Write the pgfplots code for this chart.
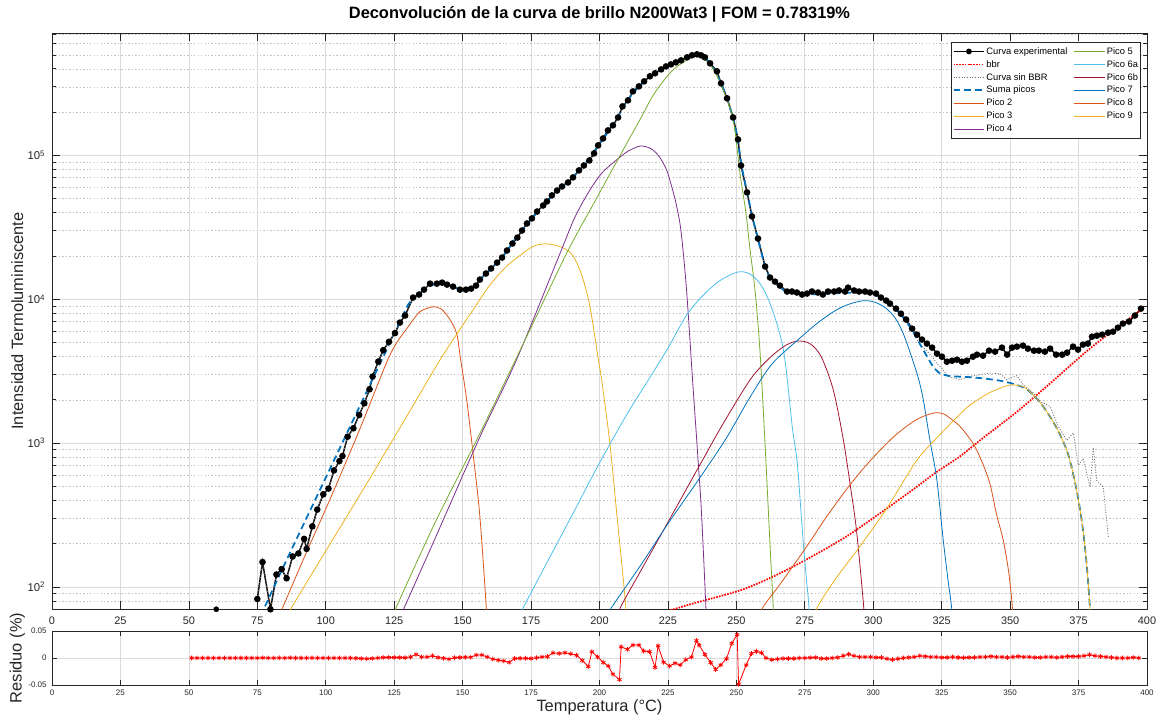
\documentclass[border=0pt]{standalone}
\usepackage{fontspec}
\setmainfont{Liberation Sans}
\usepackage{pgfplots}
\usepackage{pgfplotstable}
\pgfplotsset{compat=1.18}

\definecolor{mblue}{rgb}{0,0.447,0.741}
\definecolor{morange}{rgb}{0.850,0.325,0.098}
\definecolor{myellow}{rgb}{0.929,0.694,0.125}
\definecolor{mpurple}{rgb}{0.494,0.184,0.556}
\definecolor{mgreen}{rgb}{0.466,0.674,0.188}
\definecolor{mcyan}{rgb}{0.301,0.745,0.933}
\definecolor{mred}{rgb}{0.635,0.078,0.184}
\definecolor{axgray}{rgb}{0.15,0.15,0.15}

\pgfplotstableread{
T I
75.0 82.5
76.9 149
79.8 70
82.0 122
83.9 133
85.7 115
87.9 163
90.0 171
92.1 216
93.0 184
95.1 264
96.9 345
99.1 441
101.0 483
103.0 646
105.0 750
106.1 813
108.0 1109
110.1 1268
112.2 1570
114.1 1893
116.0 2368
117.1 2903
119.2 3691
121.0 4424
123.1 5058
125.3 5821
127.1 6887
129.0 7709
131.9 10280
134.1 10790
135.9 11670
138.1 12850
140.6 12850
142.5 13060
144.3 12650
146.5 12250
149.0 11670
151.2 11670
153.1 11860
154.9 12450
156.3 13710
158.5 15100
160.4 16370
162.6 17990
164.4 19500
166.2 21830
168.2 24430
170.0 26850
171.7 30060
173.5 33650
175.3 36480
177.2 40740
179.4 44870
180.8 47860
182.6 52720
184.5 57020
186.3 60810
188.5 64860
190.3 70310
192.5 78700
194.3 85110
196.3 92260
198.0 103300
199.5 117500
201.3 131200
203.1 149300
204.9 161800
206.8 183700
208.4 219300
210.4 241500
212.2 278600
214.4 302000
216.3 327300
218.4 354800
220.3 372400
222.5 396300
224.3 415900
226.1 429500
227.9 443600
229.8 458100
232.0 480800
233.8 496600
235.6 504700
237.1 496600
238.5 480800
240.4 436500
242.9 384600
244.4 316900
246.6 249500
248.8 183700
250.6 129100
251.7 85110
253.9 55340
255.7 37670
257.9 26420
260.5 16900
262.3 14160
264.1 13270
265.9 12450
268.5 11320
270.3 11320
272.1 11140
274.0 10790
275.8 10960
277.6 11320
279.8 11140
281.6 10790
283.5 11320
285.7 11320
287.5 11510
289.7 11320
290.8 12050
293.0 11510
294.8 11320
297.0 11320
298.8 11140
301.0 10960
302.8 10280
304.7 9795
306.1 9333
308.3 8610
310.1 7943
312.0 7228
314.2 6252
316.0 5675
317.8 5248
319.6 4920
321.5 4613
323.3 4188
325.1 3990
326.9 3681
328.8 3741
330.6 3802
332.4 3681
334.2 3741
336.4 3990
337.9 4121
340.1 4055
342.3 4395
344.5 4325
347.0 4613
348.9 4121
350.7 4613
352.5 4688
354.7 4764
356.5 4539
358.7 4395
360.5 4395
362.7 4325
364.6 4539
366.8 4121
369.0 4121
370.8 4256
373.0 4688
374.8 4467
376.6 4842
378.4 4920
379.9 5495
381.7 5585
383.6 5675
385.8 5861
387.6 5957
389.4 6353
391.2 6776
393.4 6998
395.6 7709
397.8 8610
}\expdata

\pgfplotstableread{
T R
51 0
53 0
55 0
57 0
59 0
61 0
63 0
65 0
67 0
69 0
71 0
73 0
75 0
77 0.0004
79 0
81 0
83 0.0002
85 0
87 0.0004
89 0
91 0
93 0
95 0.0002
97 0
99 0
101 0
103 0
105 0
107 0
109 0
111 -0.0004
113 -0.001
115 -0.0015
117 -0.0008
119 0
121 0.001
123 0.0012
125 0.001
127 0.001
129 0.0005
131 0.002
133 0.0065
135 0.002
137 0.002
139 0.004
141 0.001
143 -0.0005
145 -0.002
147 0.0005
149 0.001
151 0.0015
153 0.0015
155 0.0055
157 0.0055
159 0.002
161 -0.002
163 -0.004
165 -0.0055
167 -0.008
169 -0.001
171 -0.0005
173 -0.0005
175 -0.001
177 0.0005
179 0.002
181 0.0025
183 0.0095
185.3 0.0085
187.4 0.0097
189.5 0.0077
191.6 0.0052
193.7 -0.0045
195.9 -0.016
197.2 0.0116
199.3 0.0019
201.4 -0.0084
203.2 -0.0148
204.9 -0.030
207.3 -0.040
207.9 0.0206
210.2 0.0161
212.2 0.0239
214.4 0.0239
216.1 0.0129
218.3 0.0116
220.3 -0.0174
221.4 0.0226
223.4 -0.0077
225.6 -0.0148
227.6 -0.0097
229.5 -0.0129
231.5 -0.0032
233.6 0.0019
235.4 0.0323
236.4 0.0239
238.5 0.0065
240.6 -0.0084
242.4 -0.0213
244.3 -0.0129
246.4 -0.0013
248.3 0.0271
250.3 0.0432
250.8 -0.0484
253.6 -0.0129
255.5 0.0084
257.3 0.0123
259.2 0.0097
260.8 0.0
262.9 -0.0032
265 -0.002
267 -0.001
269 -0.001
271 -0.001
273 0
275 0
277 0.0005
279 0.001
281 -0.001
283 -0.001
285 0
287 0.001
289 0.004
291 0.007
293 0.004
295 0.002
297 0.002
299 0.002
301 0.001
303 0.001
305 -0.0015
307 -0.003
309 -0.0015
311 0
313 0.001
315 0.002
317 0.004
319 0.003
321 0.002
323 0.002
325 0.001
327 0.001
329 0.002
331 0.001
333 0.0005
335 0.001
337 0.001
339 0.002
341 0.002
343 0.003
345 0.002
347 0.002
349 0.001
351 0.002
353 0.003
355 0.002
357 0.002
359 0.001
361 0.001
363 0.002
365 0.002
367 0.001
369 0.002
371 0.003
373 0.003
375 0.003
377 0.004
379 0.006
381 0.004
383 0.003
385 0.002
387 0.001
389 0
391 0
393 0
395 0.001
397 0
}\resdata

\pgfplotsset{
  mstyle/.style={
    scale only axis, width=821.25pt,
    xmin=0, xmax=400, xtick={0,25,...,400},
    axis line style={axgray, line width=0.5pt},
    every tick/.style={axgray, line width=0.5pt},
    tick align=inside,
    xmajorgrids, ymajorgrids,
    major grid style={black!14, line width=0.5pt},
    /pgf/number format/assume math mode=true,
    tick label style={text=axgray},
    label style={text=axgray, font=\fontsize{12.3}{14}\selectfont},
  },
}

\begin{document}
\begin{tikzpicture}
\useasboundingbox (-39pt,0pt) rectangle (831pt,537.75pt);

\begin{axis}[mstyle,
  at={(0pt,80.8pt)}, anchor=south west, height=432.2pt,
  ymode=log, ymin=70, ymax=7.1e5,
  ytick={100,1000,10000,100000},
  yticklabels={10\textsuperscript{2},10\textsuperscript{3},10\textsuperscript{4},10\textsuperscript{5}},
  minor ytick={80,90,200,300,400,500,600,700,800,900,2000,3000,4000,5000,6000,7000,8000,9000,20000,30000,40000,50000,60000,70000,80000,90000,200000,300000,400000,500000,600000,700000},
  yminorgrids,
  minor grid style={black!24, line width=0.4pt, dash pattern=on 1pt off 1.6pt},
  major tick length=6pt, minor tick length=3pt,
  xticklabel style={font=\fontsize{8.2}{9}\selectfont, yshift=-2.5pt},
  yticklabel style={font=\fontsize{8.5}{9}\selectfont, xshift=-1.5pt},
  ylabel={Intensidad Termoluminiscente},
  ylabel style={at={(axis description cs:0,0.5)}, anchor=center, yshift=26pt},
  title={Deconvolución de la curva de brillo N200Wat3 | FOM = 0.78319\%},
  title style={at={(axis description cs:0.5,1)}, anchor=base, yshift=5pt, font=\bfseries\fontsize{12.3}{14}\selectfont, text=black},
  legend columns=2, legend cell align=left,
  legend image code/.code={\draw[mark repeat=2,mark phase=2,#1] plot coordinates {(0pt,0pt) (11.5pt,0pt) (23pt,0pt)};},
  legend style={at={(0.9945,0.9844)}, anchor=north east, draw=axgray, line width=0.5pt, fill=white,
    font=\fontsize{7}{8}\selectfont, inner xsep=1pt, inner ysep=2pt,
    nodes={inner sep=1pt, text height=5.9pt, text depth=1.8pt},
    /tikz/every even column/.append style={column sep=4pt}},
]
% experimental
\addplot[black, line width=1.1pt, mark=*, mark size=1.9pt, mark options={solid, fill=black}, forget plot] table[x=T, y=I] {\expdata};
\addplot[black, only marks, mark=*, mark size=1.9pt, forget plot] coordinates {(60,70)};
% bbr
\addplot[red, line width=1.3pt, dash pattern=on 1.2pt off 0.9pt, smooth, forget plot] coordinates {
(222,65.6)(226.4,69.3)(235,77.6)(251.3,94.6)(263.5,118.3)(275.7,155.6)(287.9,210.9)(293.9,250)(304.9,350.8)(314,467.7)(323.2,631)(331.7,810)(340.2,1090)(352.4,1648)(364.6,2600)(376.8,4169)(384.7,5495)(391,6761)(397.4,8318)};
% curva sin BBR
\addplot[black!55, line width=0.6pt, dash pattern=on 0.8pt off 1.2pt, restrict x to domain=74:316.5, forget plot] table[x=T, y=I] {\expdata};
\addplot[black!55, line width=0.6pt, dash pattern=on 0.8pt off 1.2pt, forget plot] coordinates {
(316.0,5195)(317.8,4700)(319.6,4360)(321.5,4000)(323.3,3558)(325.1,3320)(326.9,2960)(328.0,2884)(331.7,2761)(335.3,2911)(339.0,2992)(342.6,3069)(346.3,3041)(348.8,2761)(352.4,2944)(354.8,2547)(358.5,2228)(360.9,1950)(364.6,1799)(367.6,1306)(370.7,1047)(373.1,1178)(374.9,701.5)(376.7,781.6)(379.2,495.5)(380.4,931)(381.6,552)(384.0,495.5)(385.9,222.3)};
% suma picos
\addplot[mblue, line width=1.3pt, dash pattern=on 5pt off 3pt, smooth, tension=0.4, forget plot] coordinates {
(76,63.1)(77.2,69.3)(85,144.5)(95,363.1)(105,912)(115,2291)(120,3631)(125,5754)(130,9120)(133,10470)(136,11750)(140,12740)(144,12590)(148,11890)(151,11610)(154,12300)(157,14130)(160,16030)(165,20180)(170,27540)(175,35890)(180,46240)(185,57810)(190,69500)(195,89130)(200,120200)(205,164100)(210,238800)(215,309000)(220,369800)(225,421700)(230,462400)(235,501200)(238,489800)(241,421700)(244,331100)(247,237100)(250,144500)(252,83180)(254,54330)(256,36310)(258,25700)(260,18200)(262,14450)(265,12590)(268,11350)(272,10960)(276,10840)(280,10840)(285,10960)(290,11090)(295,11090)(300,10840)(303,10230)(306,9333)(310,7852)(314,6166)(318.3,4436)(321.9,3396)(324.4,3055)(328,2924)(334,2884)(340.2,2818)(346,2723)(350,2620)(354,2480)(356,2370)(358.5,2158)(361.5,1862)(364.6,1524)(367.7,1202)(370.7,893)(372.5,676)(374.3,470)(375.6,339)(376.8,234)(378,141)(379.2,69.3)(379.6,44.7)};
% Pico 2
\addplot[morange, line width=0.6pt, smooth, forget plot] coordinates {
(80,46.8)(83.9,69.3)(92,158.5)(102.2,434.5)(112.5,1259)(122.3,3664)(126,5012)(129.6,6252)(132,7244)(134.4,8204)(137,8650)(139.3,8872)(142,8600)(145,7413)(147.8,5794)(149.3,3776)(151.5,1995)(153.9,820)(156.3,309)(158.7,69.3)(159.5,35.5)};
% Pico 3
\addplot[myellow, line width=0.6pt, smooth, forget plot] coordinates {
(84,55)(87,69.3)(100,177.8)(115,524.8)(130,1585)(141.7,3776)(149,6166)(153.9,8511)(160,12590)(166.1,16980)(172,20890)(176,23440)(180.1,24270)(184,23710)(187.5,22390)(190.4,19950)(193.5,14790)(196.5,8913)(199.6,3802)(200.8,2742)(203.8,993)(206.3,323.6)(208.2,141.3)(209.7,69.3)(210.3,44.7)};
% Pico 4
\addplot[mpurple, line width=0.6pt, smooth, forget plot] coordinates {
(125,50.1)(128.3,69.3)(140,218.8)(156.3,1104)(169.7,3802)(185.6,20890)(191,37150)(196.5,57540)(201,75860)(206.3,93330)(210.5,107200)(214.8,116100)(218.5,112200)(221.5,100000)(224.5,79430)(227,54950)(228.2,44160)(229.8,29510)(231.8,11610)(234.0,2742)(236.1,721)(237.3,316)(238.9,69.3)(239.3,39.8)};
% Pico 5
\addplot[mgreen, line width=0.6pt, smooth, forget plot] coordinates {
(122,50.1)(125.3,69.3)(140,281.8)(156.3,1167)(173,5309)(188,20890)(198,46770)(206.3,90780)(214.8,177800)(220,269200)(225.8,375000)(230,436500)(235.5,489800)(240.4,426600)(244.4,309000)(248.8,177800)(251.3,75340)(253.5,39810)(255,22030)(256.8,11610)(258.6,4436)(260.4,1047)(262.3,195)(263.5,69.3)(263.9,39.8)};
% Pico 6a
\addplot[mcyan, line width=0.6pt, smooth, forget plot] coordinates {
(170.5,63.1)(171.7,69.3)(178.3,120.2)(190,316.2)(200.2,739.6)(210,1585)(217.8,2742)(225,4571)(231.8,7762)(238,10720)(244,13490)(250.3,15420)(254.5,15140)(258.6,12880)(262.5,9120)(267.2,4436)(270.5,1259)(272.3,708)(274.5,195)(276.6,69.3)(277,39.8)};
% Pico 6b
\addplot[mred, line width=0.6pt, smooth, forget plot] coordinates {
(206.5,56.2)(207.2,69.3)(214.8,126.8)(225,281.8)(236.7,707.9)(245,1349)(255,2754)(262,3890)(268,4786)(272.6,5129)(277,4898)(281,3981)(285.4,2344)(289.1,1047)(291.5,524.8)(293.9,245.5)(296.6,69.3)(297,44.7)};
% Pico 7
\addplot[mblue, line width=0.6pt, smooth, forget plot] coordinates {
(203,63.1)(203.8,69.3)(215,141.3)(225,275.4)(236.7,575.4)(246.5,1096)(255,2089)(263,3548)(273.2,5370)(280,6918)(286,8318)(291,9226)(296.4,9772)(300.5,9550)(304.5,8710)(308,7413)(311,5754)(314,3981)(316.5,2818)(318.3,1995)(320.7,1047)(323.2,562.3)(325.6,208.9)(327.3,112.2)(328.7,69.3)(329.2,39.8)};
% Pico 8
\addplot[morange, line width=0.6pt, smooth, forget plot] coordinates {
(258.5,50.1)(259.2,69.3)(266,104.7)(275.7,191.4)(283,309)(291.5,512.9)(299,758.6)(306.1,1047)(311,1259)(315.5,1445)(319.5,1567)(323.2,1629)(326,1585)(329,1445)(332,1288)(336.5,993)(339.5,758.6)(342.6,523.6)(345.1,316.2)(347.5,210.9)(349.5,125.9)(350.9,69.3)(351.3,44.7)};
% Pico 9
\addplot[myellow, line width=0.6pt, smooth, forget plot] coordinates {
(278.5,50.1)(279.1,69.3)(286,112.2)(294.5,184.5)(304.9,350.8)(315.9,758.6)(324.4,1148)(334.1,1758)(341,2163)(346,2399)(350.6,2541)(355,2455)(358.5,2158)(361.5,1862)(364.6,1524)(367.7,1202)(370.7,893.4)(372.5,676.1)(374.3,469.9)(375.6,338.8)(376.8,234.4)(378,141.3)(379.2,69.3)(379.6,44.7)};

% legend (row-wise order emulating two columns)
\addlegendimage{black, line width=1.1pt, mark=*, mark size=1.6pt, mark options={solid, fill=black}}
\addlegendentry{Curva experimental}
\addlegendimage{line width=0.6pt, mgreen}\addlegendentry{Pico 5}
\addlegendimage{red, line width=1.3pt, dash pattern=on 1.2pt off 0.9pt}\addlegendentry{bbr}
\addlegendimage{line width=0.6pt, mcyan}\addlegendentry{Pico 6a}
\addlegendimage{black!55, line width=0.6pt, dash pattern=on 0.8pt off 1.2pt}\addlegendentry{Curva sin BBR}
\addlegendimage{line width=0.6pt, mred}\addlegendentry{Pico 6b}
\addlegendimage{mblue, line width=1.3pt, dash pattern=on 5pt off 3pt}\addlegendentry{Suma picos}
\addlegendimage{line width=0.6pt, mblue}\addlegendentry{Pico 7}
\addlegendimage{line width=0.6pt, morange}\addlegendentry{Pico 2}
\addlegendimage{line width=0.6pt, morange}\addlegendentry{Pico 8}
\addlegendimage{line width=0.6pt, myellow}\addlegendentry{Pico 3}
\addlegendimage{line width=0.6pt, myellow}\addlegendentry{Pico 9}
\addlegendimage{line width=0.6pt, mpurple}\addlegendentry{Pico 4}
\end{axis}

\begin{axis}[mstyle,
  at={(0pt,24pt)}, anchor=south west, height=40.5pt,
  ymin=-0.05, ymax=0.05, ytick={-0.05,0,0.05}, yticklabels={-0.05,0,0.05},
  scaled y ticks=false,
  major tick length=4pt,
  xticklabel style={font=\fontsize{6}{7}\selectfont, yshift=-0.5pt},
  yticklabel style={font=\fontsize{6}{7}\selectfont, xshift=-0.5pt},
  ylabel={Residuo (\%)},
  ylabel style={at={(axis description cs:0,0.5)}, anchor=center, yshift=26pt},
  xlabel={Temperatura (°C)},
  xlabel style={at={(axis description cs:0.5,0)}, anchor=center, yshift=-16.5pt},
]
\addplot[red, line width=0.6pt, mark=asterisk, mark size=1.8pt, mark options={solid, line width=0.6pt}] table[x=T, y=R] {\resdata};
\end{axis}
\end{tikzpicture}
\end{document}
